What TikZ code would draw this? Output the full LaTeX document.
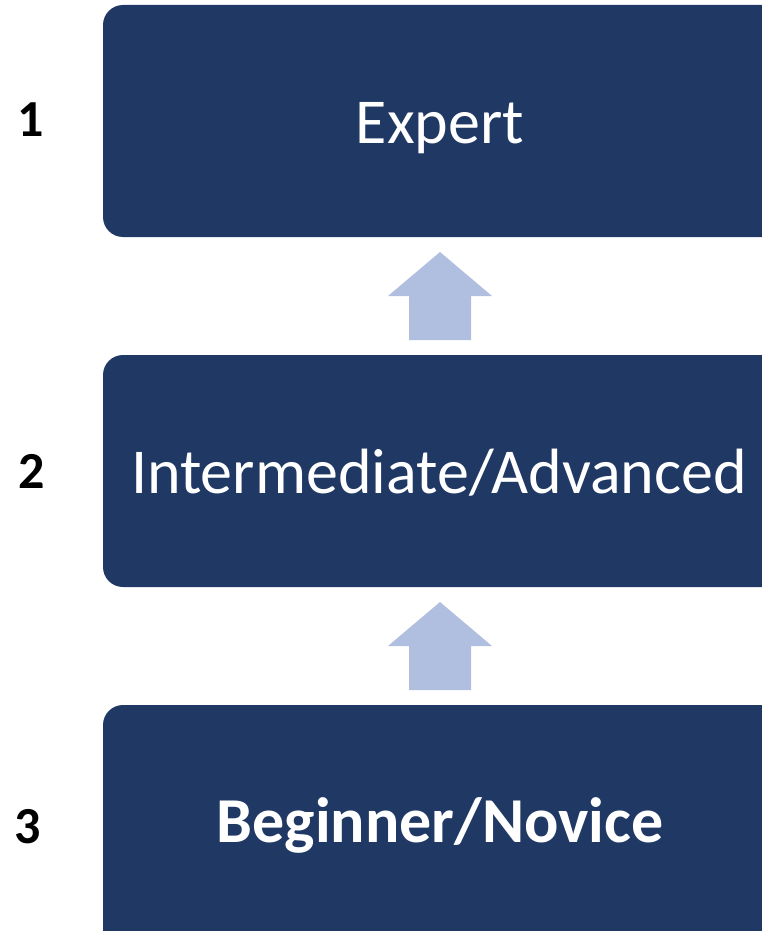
\documentclass[tikz,border=0pt]{standalone}
\usepackage{fontspec}
\setmainfont{Carlito}
\definecolor{boxblue}{HTML}{203864}
\definecolor{arrowblue}{HTML}{B0BEE0}
\begin{document}
\begin{tikzpicture}[x=1pt,y=-1pt,
  levelbox/.style={fill=boxblue,rounded corners=20pt},
  leveltext/.style={text=white,font=\fontsize{64}{70}\selectfont,anchor=base},
  numtext/.style={font=\bfseries\fontsize{52}{56}\selectfont,anchor=base},
  uparrow/.style={fill=arrowblue}]
\useasboundingbox (0,0) rectangle (762,931);
\begin{scope}
\clip (0,0) rectangle (762,931);
\fill[levelbox] (103,5) rectangle (790,237);
\fill[levelbox] (103,355) rectangle (790,587);
\fill[levelbox] (103,705) rectangle (790,960);
\end{scope}
\coordinate (a1) at (440,252);
\fill[uparrow] (a1) -- (492,296) -- (471,296) -- (471,340) -- (409,340) -- (409,296) -- (388,296) -- cycle;
\coordinate (a2) at (440,602);
\fill[uparrow] (a2) -- (492,646) -- (471,646) -- (471,690) -- (409,690) -- (409,646) -- (388,646) -- cycle;
\node[leveltext] (t1) at (440,143) {Expert};
\node[leveltext] (t2) at (439,493) {Intermediate/Advanced};
\node[leveltext,font=\bfseries\fontsize{64}{70}\selectfont] (t3) at (440,842) {Beginner/Novice};
\node[numtext] (n1) at (31,136) {1};
\node[numtext] (n2) at (32,488) {2};
\node[numtext] (n3) at (28,843) {3};
\end{tikzpicture}
\end{document}
